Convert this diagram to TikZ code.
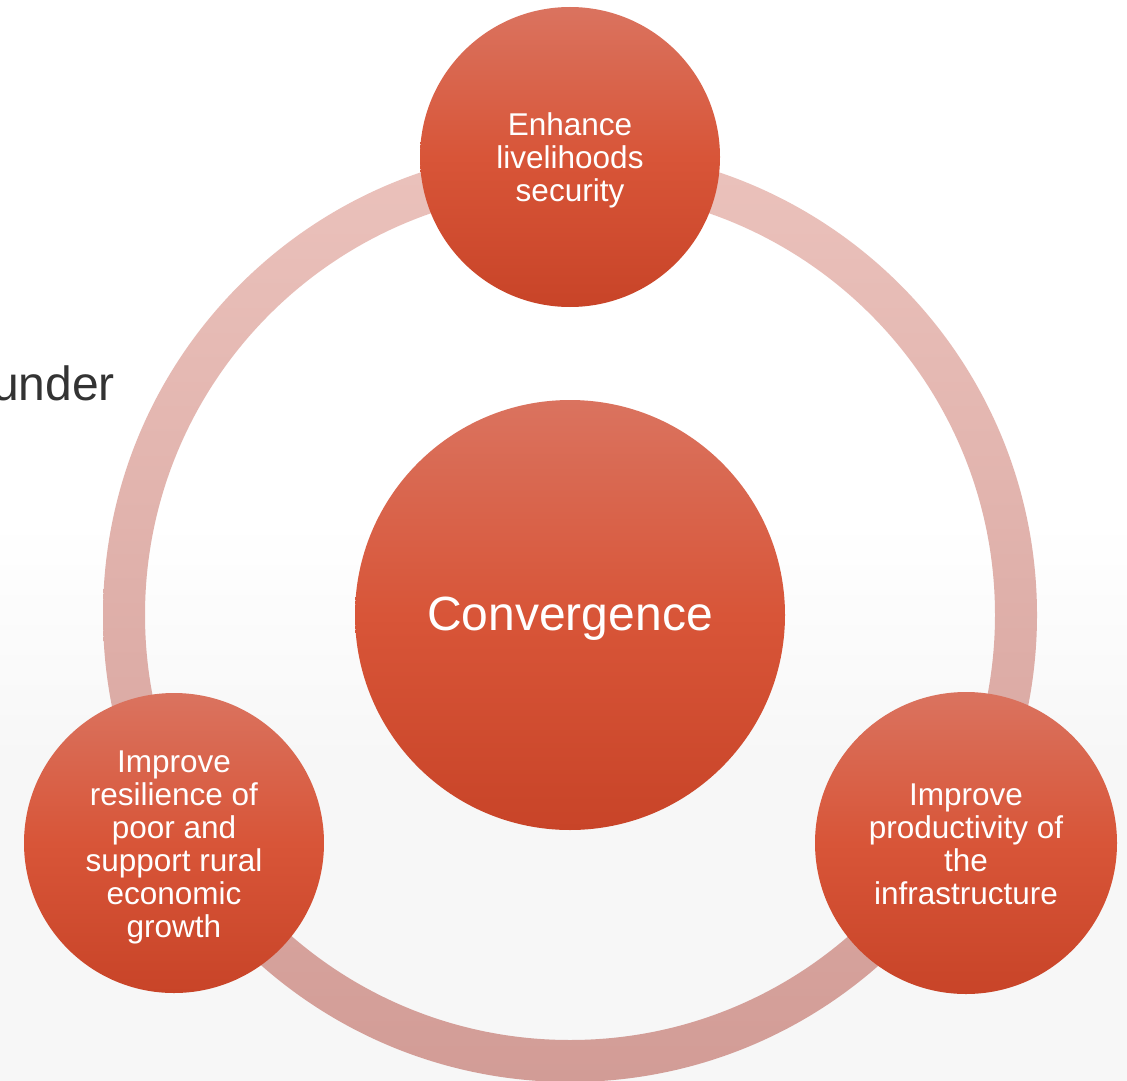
\documentclass[tikz,border=0pt]{standalone}
\usepackage{fontspec}
\setmainfont{Liberation Sans}
\definecolor{ringtop}{HTML}{EBC2BC}
\definecolor{ringbot}{HTML}{D29C96}
\definecolor{ctop}{HTML}{DA735F}
\definecolor{cmid}{HTML}{D85538}
\definecolor{cbot}{HTML}{C84428}
\definecolor{bgbot}{HTML}{F7F7F7}
\definecolor{darktext}{HTML}{333333}
\newcommand{\lines}[1]{\raisebox{-5pt}[\height][\depth]{\begin{tabular}{@{}c@{}}#1\end{tabular}}}
\tikzset{
  bubble/.style={circle, inner sep=0pt, top color=ctop, bottom color=cbot, middle color=cmid, text=white, align=center},
  smalltext/.style={font=\fontsize{31.5}{33}\selectfont},
}
\begin{document}
\begin{tikzpicture}[x=1pt,y=-1pt]
\useasboundingbox (0,0) rectangle (1127,1081);
\fill[white] (0,0) rectangle (1127,520);
\shade[top color=white, bottom color=bgbot] (0,520) rectangle (1127,760);
\fill[bgbot] (0,760) rectangle (1127,1081);
% text partly hidden at the left
\node[anchor=base east, inner sep=0pt, text=darktext, font=\fontsize{48}{56}\selectfont] (under) at (115,400) {under};
% ring
\shade[top color=ringtop, bottom color=ringbot, even odd rule]
  (570,615) circle[radius=467] (570,615) circle[radius=425];
% centre
\node[bubble, minimum size=430pt, font=\fontsize{48}{56}\selectfont] (conv) at (570,615) {\raisebox{-4pt}[\height][\depth]{Convergence}};
% satellites
\node[bubble, minimum size=300pt, smalltext] (top) at (570,157) {\lines{Enhance\\livelihoods\\security}};
\node[bubble, minimum size=300pt, smalltext] (left) at (174,843) {\lines{Improve\\resilience of\\poor and\\support rural\\economic\\growth}};
\node[bubble, minimum size=302pt, smalltext] (right) at (966,843) {\lines{Improve\\productivity of\\the\\infrastructure}};
\end{tikzpicture}
\end{document}
